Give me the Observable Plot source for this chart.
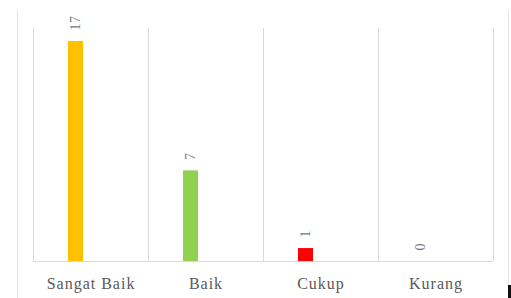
<!DOCTYPE html>
<html>
<head>
<meta charset="utf-8">
<script src="https://cdn.jsdelivr.net/npm/d3@7"></script>
<script src="https://cdn.jsdelivr.net/npm/@observablehq/plot@0.6"></script>
<style>
  html, body { margin: 0; padding: 0; background: #fff; }
  #wrap { position: relative; width: 511px; height: 298px; overflow: hidden; }
  #frame { position: absolute; left: 17px; top: 10px; width: 490px; height: 300px;
           border-left: 1px solid #e3e3e3; border-right: 1px solid #e3e3e3; }
  #corner { position: absolute; left: 508px; top: 285px; width: 3px; height: 13px; background: #111; }
  svg { position: absolute; left: 0; top: 0; }
</style>
</head>
<body>
<div id="wrap"><div id="frame"></div><div id="corner"></div></div>
<script>
const categories = ["Sangat Baik", "Baik", "Cukup", "Kurang"];
const values = [17, 7, 1, 0];
const colors = ["#FFC000", "#92D050", "#FF0000", "#A5A5A5"];

const data = categories.map((c, i) => ({cat: c, value: values[i], color: colors[i]}));
const font = "'Liberation Serif', 'Times New Roman', serif";

const chart = Plot.plot({
  width: 511,
  height: 298,
  marginLeft: 33,
  marginRight: 18,
  marginTop: 28,
  marginBottom: 37,
  style: {fontFamily: font, background: "transparent", overflow: "visible"},
  x: {domain: categories, padding: 0, label: null, tickSize: 0, tickPadding: 16},
  y: {domain: [0, 18], axis: null},
  marks: [
    Plot.ruleX(categories, {x: d => d, dx: -57.5, stroke: "#d9d9d9", strokeOpacity: 1}),
    Plot.ruleX(categories.slice(-1), {x: d => d, dx: 57.5, stroke: "#d9d9d9", strokeOpacity: 1}),
    Plot.barY(data, {x: "cat", y: "value", fill: "color", insetLeft: 35, insetRight: 65}),
    Plot.ruleY([0], {stroke: "#d9d9d9"}),
    Plot.text(data, {x: "cat", y: "value", text: d => String(d.value), rotate: -90,
      textAnchor: "start", dx: -15, dy: -11, fill: "#7a7a7a", fontSize: 14})
  ]
});

d3.select(chart).selectAll("g[aria-label='x-axis tick label'] text, g[aria-label='x-axis'] text")
  .attr("fill", "#595959").style("font-size", "16px").style("letter-spacing", "1px");
d3.select(chart).selectAll("g[aria-label='text'] text").style("letter-spacing", "0.5px");
document.getElementById("wrap").appendChild(chart);
</script>
</body>
</html>
